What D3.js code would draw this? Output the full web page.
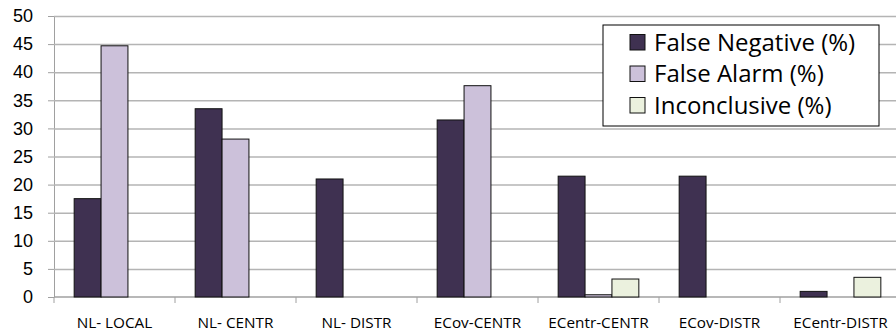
<!DOCTYPE html>
<html>
<head>
<meta charset="utf-8">
<script src="https://cdn.jsdelivr.net/npm/d3@7"></script>
<style>
  html, body { margin: 0; padding: 0; background: #fff; }
  svg { display: block; font-family: "Open Sans", sans-serif; }
</style>
</head>
<body>
<div id="chart"></div>
<script>
// bar chart: error rates per configuration

const categories = ['NL- LOCAL', 'NL- CENTR', 'NL- DISTR', 'ECov-CENTR', 'ECentr-CENTR', 'ECov-DISTR', 'ECentr-DISTR'];
const seriesNames = ['False Negative (%)', 'False Alarm (%)', 'Inconclusive (%)'];
const falseNegative = [17.5, 33.5, 21.0, 31.5, 21.5, 21.5, 1.0];
const falseAlarm = [44.7, 28.1, 0, 37.6, 0.4, 0, 0];
const inconclusive = [0, 0, 0, 0, 3.2, 0, 3.5];
const yTicks = [0, 5, 10, 15, 20, 25, 30, 35, 40, 45, 50];
const colors = ['#3f3151', '#ccc1da', '#ebf1de'];

const W = 896, H = 336;
const margin = {top: 16, right: -5, bottom: 39, left: 54};

const svg = d3.select('#chart').append('svg')
  .attr('width', W).attr('height', H);

const x = d3.scaleBand()
  .domain(categories)
  .range([margin.left, W - margin.right]);

const y = d3.scaleLinear()
  .domain([0, 50])
  .range([H - margin.bottom, margin.top]);

// bar width = band / 4.5 (excel gap 150%)
const bw = x.bandwidth() / 4.5;
const x1 = d3.scaleBand()
  .domain(seriesNames)
  .range([x.bandwidth() / 2 - 1.5 * bw, x.bandwidth() / 2 + 1.5 * bw]);

// gridlines + ticks on y
svg.append('g')
  .attr('transform', `translate(${margin.left},0)`)
  .call(d3.axisLeft(y).tickValues(yTicks).tickSize(6).tickSizeOuter(0))
  .call(g => {
    g.select('.domain').attr('stroke', '#a0a0a0');
    g.selectAll('.tick line').attr('stroke', '#a0a0a0');
    g.selectAll('.tick text').attr('font-size', 18).attr('fill', '#000').attr('x', -21);
    g.selectAll('.tick').filter(d => d > 0).append('line')
      .attr('x1', 0).attr('x2', W)
      .attr('stroke', '#b4b4b4').attr('stroke-width', 1.5);
  });

// x axis
const xa = svg.append('g')
  .attr('transform', `translate(0,${y(0)})`);
xa.append('line')
  .attr('x1', margin.left).attr('x2', W)
  .attr('stroke', '#a0a0a0').attr('stroke-width', 1.5);
xa.selectAll('line.sep')
  .data(categories)
  .join('line')
  .attr('class', 'sep')
  .attr('x1', d => x(d)).attr('x2', d => x(d))
  .attr('y1', 0).attr('y2', 6)
  .attr('stroke', '#a0a0a0');
xa.selectAll('text')
  .data(categories)
  .join('text')
  .attr('x', d => x(d) + x.bandwidth() / 2)
  .attr('y', 31)
  .attr('text-anchor', 'middle')
  .attr('font-size', 15.3)
  .text(d => d);

// bars
const data = [falseNegative, falseAlarm, inconclusive];
const groups = svg.append('g').selectAll('g')
  .data(categories)
  .join('g')
  .attr('transform', d => `translate(${x(d)},0)`);

groups.selectAll('rect')
  .data((c, i) => seriesNames.map((s, k) => ({s, k, v: data[k][i]})).filter(d => d.v > 0))
  .join('rect')
  .attr('x', d => x1(d.s))
  .attr('width', x1.bandwidth())
  .attr('y', d => y(d.v))
  .attr('height', d => y(0) - y(d.v))
  .attr('fill', d => colors[d.k])
  .attr('stroke', '#111')
  .attr('stroke-width', 1);

// legend
const lg = svg.append('g').attr('transform', 'translate(603,25)');
lg.append('rect')
  .attr('width', 276).attr('height', 101)
  .attr('fill', '#fff').attr('stroke', '#000');
const items = lg.selectAll('g.item')
  .data(seriesNames)
  .join('g')
  .attr('class', 'item')
  .attr('transform', (d, i) => `translate(27,${17 + i * 31.5})`);
items.append('rect')
  .attr('x', 0).attr('y', -7.5)
  .attr('width', 15).attr('height', 15.5)
  .attr('fill', (d, i) => colors[i])
  .attr('stroke', '#111');
items.append('text')
  .attr('x', 24).attr('y', 8.5)
  .attr('font-size', 24)
  .text(d => d);
</script>
</body>
</html>
